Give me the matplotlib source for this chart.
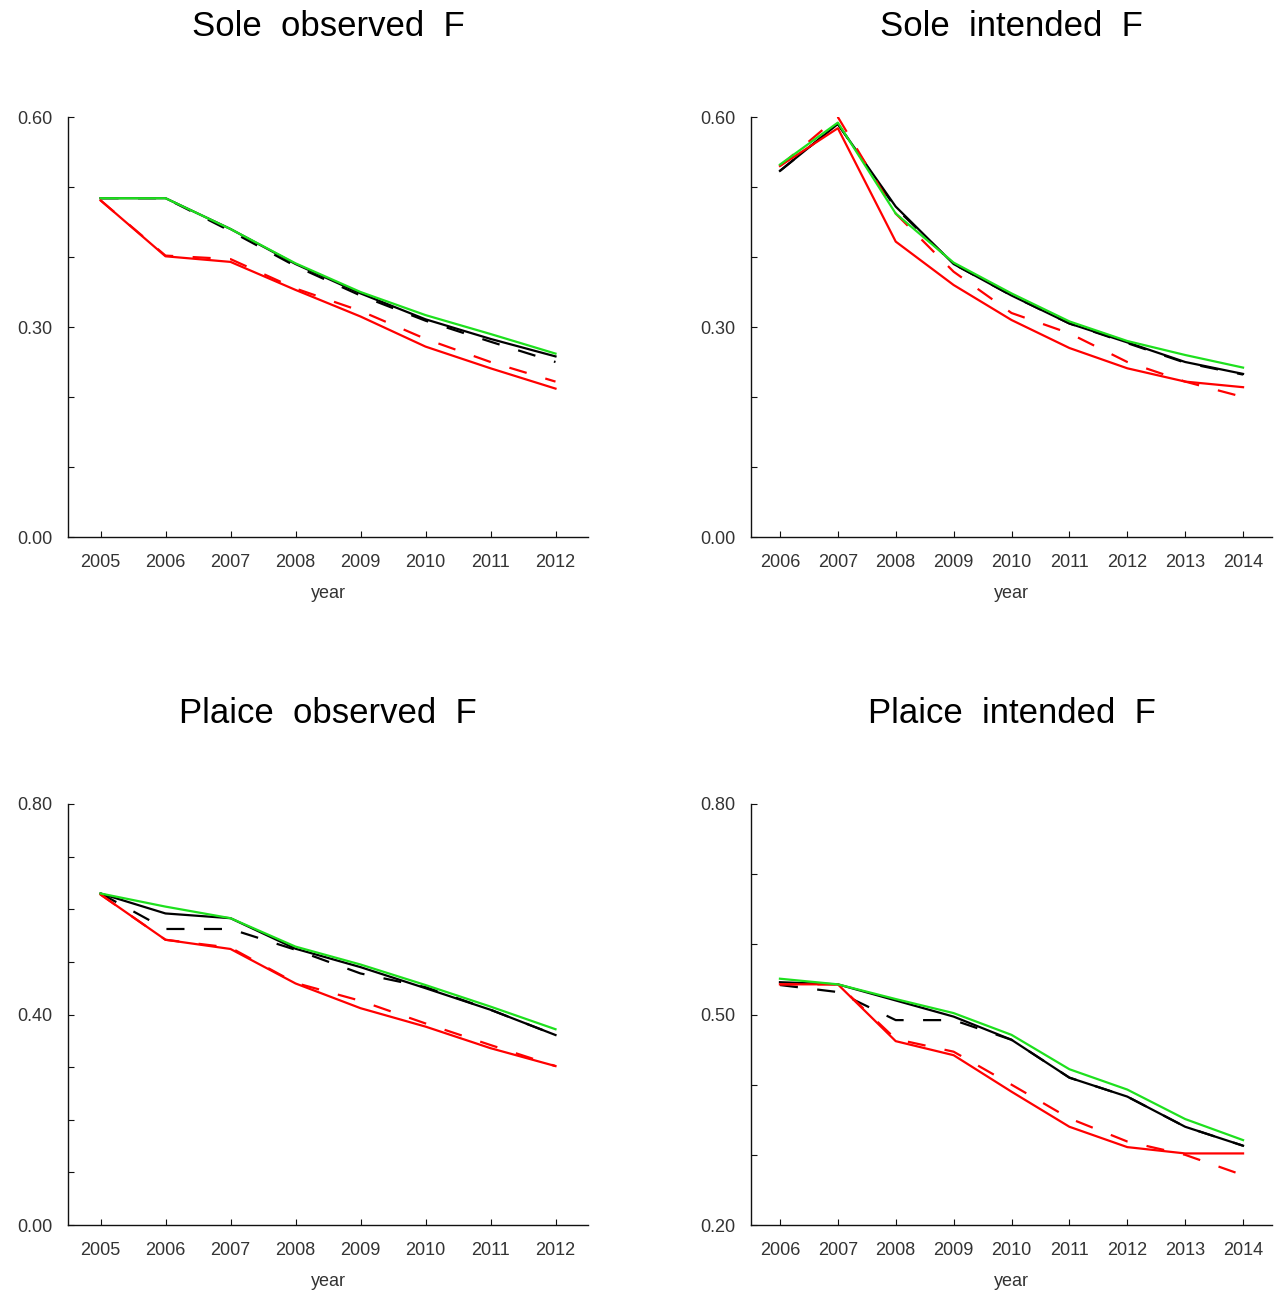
import matplotlib
matplotlib.use('Agg')
import matplotlib.pyplot as plt

plt.rcParams['font.family'] = ['Liberation Sans', 'DejaVu Sans']
plt.rcParams['lines.scale_dashes'] = False

# ---------------- data ----------------
years_obs = [2005, 2006, 2007, 2008, 2009, 2010, 2011, 2012]
years_int = [2006, 2007, 2008, 2009, 2010, 2011, 2012, 2013, 2014]

# Sole observed F
sole_obs_green      = [0.484, 0.484, 0.440, 0.391, 0.350, 0.317, 0.290, 0.262]
sole_obs_black      = [0.484, 0.484, 0.440, 0.390, 0.348, 0.311, 0.283, 0.258]
sole_obs_black_dash = [0.484, 0.484, 0.437, 0.387, 0.345, 0.309, 0.279, 0.250]
sole_obs_red        = [0.481, 0.401, 0.393, 0.353, 0.315, 0.272, 0.241, 0.212]
sole_obs_red_dash   = [0.481, 0.402, 0.397, 0.355, 0.323, 0.283, 0.250, 0.222]

# Sole intended F
sole_int_green      = [0.532, 0.592, 0.462, 0.392, 0.348, 0.308, 0.280, 0.260, 0.242]
sole_int_black      = [0.523, 0.590, 0.472, 0.390, 0.345, 0.305, 0.278, 0.250, 0.233]
sole_int_black_dash = [0.523, 0.590, 0.470, 0.390, 0.345, 0.305, 0.277, 0.249, 0.232]
sole_int_red        = [0.530, 0.584, 0.422, 0.360, 0.310, 0.270, 0.241, 0.222, 0.214]
sole_int_red_dash   = [0.530, 0.600, 0.462, 0.379, 0.320, 0.291, 0.250, 0.222, 0.200]

# Plaice observed F
plaice_obs_green      = [0.630, 0.605, 0.583, 0.529, 0.495, 0.456, 0.415, 0.372]
plaice_obs_black      = [0.630, 0.592, 0.583, 0.525, 0.490, 0.450, 0.409, 0.361]
plaice_obs_black_dash = [0.630, 0.5625, 0.5625, 0.523, 0.478, 0.452, 0.409, 0.361]
plaice_obs_red        = [0.628, 0.542, 0.5245, 0.459, 0.412, 0.377, 0.336, 0.302]
plaice_obs_red_dash   = [0.628, 0.542, 0.527, 0.460, 0.426, 0.383, 0.342, 0.302]

# Plaice intended F
plaice_int_green      = [0.551, 0.543, 0.522, 0.502, 0.471, 0.422, 0.393, 0.351, 0.321]
plaice_int_black      = [0.546, 0.543, 0.520, 0.497, 0.464, 0.410, 0.383, 0.340, 0.313]
plaice_int_black_dash = [0.542, 0.532, 0.492, 0.492, 0.464, 0.410, 0.383, 0.340, 0.313]
plaice_int_red        = [0.543, 0.543, 0.462, 0.442, 0.390, 0.340, 0.311, 0.302, 0.302]
plaice_int_red_dash   = [0.543, 0.543, 0.465, 0.447, 0.400, 0.352, 0.319, 0.300, 0.271]

titles = ["Sole  observed  F", "Sole  intended  F",
          "Plaice  observed  F", "Plaice  intended  F"]
x_label = "year"

sole_yticks = [0.0, 0.1, 0.2, 0.3, 0.4, 0.5, 0.6]
sole_ylabels = ["0.00", "", "", "0.30", "", "", "0.60"]
plaice_obs_yticks = [0.0, 0.1, 0.2, 0.3, 0.4, 0.5, 0.6, 0.7, 0.8]
plaice_obs_ylabels = ["0.00", "", "", "", "0.40", "", "", "", "0.80"]
plaice_int_yticks = [0.2, 0.3, 0.4, 0.5, 0.6, 0.7, 0.8]
plaice_int_ylabels = ["0.20", "", "", "0.50", "", "", "0.80"]

# ---------------- figure ----------------
W, H = 1277, 1293
fig = plt.figure(figsize=(W / 100, H / 100), dpi=100)

GREEN = '#1ee01e'
RED = '#ff0000'
BLACK = '#000000'
LABEL_COL = '#333333'
DASH = (0, (13, 14))


def make_ax(left, top, width, height):
    return fig.add_axes([left / W, 1 - (top + height) / H, width / W, height / H])


panels = [
    (make_ax(68, 117, 520, 420), years_obs,
     [sole_obs_green, sole_obs_black, sole_obs_black_dash, sole_obs_red, sole_obs_red_dash],
     (2004.5, 2012.5), (0.0, 0.6), sole_yticks, sole_ylabels, titles[0]),
    (make_ax(751, 117, 521, 420), years_int,
     [sole_int_green, sole_int_black, sole_int_black_dash, sole_int_red, sole_int_red_dash],
     (2005.5, 2014.5), (0.0, 0.6), sole_yticks, sole_ylabels, titles[1]),
    (make_ax(68, 804, 520, 421), years_obs,
     [plaice_obs_green, plaice_obs_black, plaice_obs_black_dash, plaice_obs_red, plaice_obs_red_dash],
     (2004.5, 2012.5), (0.0, 0.8), plaice_obs_yticks, plaice_obs_ylabels, titles[2]),
    (make_ax(751, 804, 521, 421), years_int,
     [plaice_int_green, plaice_int_black, plaice_int_black_dash, plaice_int_red, plaice_int_red_dash],
     (2005.5, 2014.5), (0.2, 0.8), plaice_int_yticks, plaice_int_ylabels, titles[3]),
]

for ax, yrs, series, xlim, ylim, yt, yl, title in panels:
    green, black, black_d, red, red_d = series
    ax.plot(yrs, black, color=BLACK, lw=1.6, zorder=2)
    ax.plot(yrs, black_d, color=BLACK, lw=1.6, linestyle=DASH, zorder=2)
    ax.plot(yrs, red_d, color=RED, lw=1.6, linestyle=DASH, zorder=3)
    ax.plot(yrs, red, color=RED, lw=1.6, zorder=3)
    ax.plot(yrs, green, color=GREEN, lw=1.6, zorder=4)

    ax.set_xlim(*xlim)
    ax.set_ylim(*ylim)
    ax.set_xticks(yrs)
    ax.set_xticklabels([str(y) for y in yrs])
    ax.set_yticks(yt)
    ax.set_yticklabels(yl)

    for s in ['top', 'right']:
        ax.spines[s].set_visible(False)
    for s in ['left', 'bottom']:
        ax.spines[s].set_linewidth(1.0)
        ax.spines[s].set_color('#111111')

    ax.tick_params(axis='x', direction='in', length=4.5, width=0.8,
                   pad=12, labelsize=13, labelcolor=LABEL_COL, color='#111111')
    ax.tick_params(axis='y', direction='in', length=4.0, width=0.8,
                   pad=11, labelsize=13, labelcolor=LABEL_COL, color='#111111')
    ax.set_xlabel(x_label, fontsize=13, color=LABEL_COL, labelpad=10)
    ax.set_title(title, fontsize=25, pad=58, color='black')

fig.savefig('out.png', dpi=100)
